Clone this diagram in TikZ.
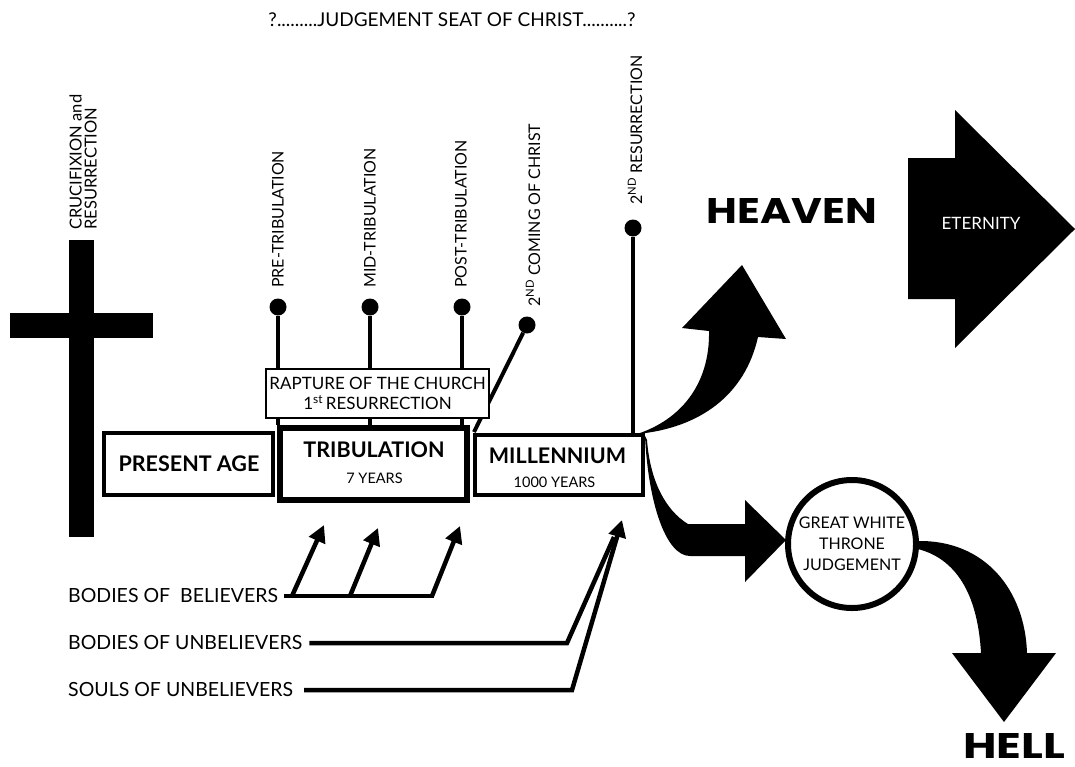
\documentclass[tikz,border=0pt]{standalone}
\usepackage{fontspec}
\setmainfont{Lato}
\newfontfamily\heavyfont{Poppins}
\usetikzlibrary{arrows.meta, positioning, shapes.geometric}

\tikzstyle{period} = [rectangle, draw=black, fill=white, line width=4.5pt, inner sep=0pt]
\tikzstyle{boxtitle} = [inner sep=0pt, font=\fontsize{21.5}{24}\selectfont\bfseries]
\tikzstyle{boxsub} = [inner sep=0pt, font=\fontsize{14.5}{16}\selectfont]
\tikzstyle{lbl} = [inner sep=0pt, font=\fontsize{17}{20}\selectfont]
\tikzstyle{who} = [inner sep=0pt, anchor=west, font=\fontsize{19.5}{22}\selectfont]
\tikzstyle{vtext} = [rotate=90, anchor=west, inner sep=0pt, align=left, font=\fontsize{16}{15}\selectfont]
\tikzstyle{dot} = [circle, fill=black, minimum size=17pt, inner sep=0pt]
\tikzstyle{stem} = [line width=4pt]
\tikzstyle{feed} = [line width=4.5pt, -{Triangle[length=17pt,width=17pt]}]
\tikzstyle{rise} = [line width=4.5pt]

\begin{document}
\begin{tikzpicture}[x=1pt, y=-1pt]
\useasboundingbox (0,0) rectangle (1075,766);

        \node (seat) [inner sep=0pt, font=\fontsize{19}{22}\selectfont] at (452,20) {?.........JUDGEMENT SEAT OF CHRIST..........?};

        % cross
        \fill (69,240) rectangle (94,537);
        \fill (10,313) rectangle (153,338);
        \node (cross) [vtext, font=\fontsize{16.5}{15}\selectfont] at (83,230) {CRUCIFIXION and\\RESURRECTION};

        % the ages
        \node (present) [period, minimum width=169pt, minimum height=62pt] at (188.5,464) {};
        \node (trib) [period, line width=6pt, minimum width=187pt, minimum height=72pt] at (373.5,464) {};
        \node (mill) [period, minimum width=168pt, minimum height=60pt] at (559,465) {};
        \node (presentT) [boxtitle] at (189,464) {PRESENT AGE};
        \node (tribT) [boxtitle] at (374,449.5) {TRIBULATION};
        \node (tribY) [boxsub] at (374.5,478.5) {7 YEARS};
        \node (millT) [boxtitle] at (557.5,455.5) {MILLENNIUM};
        \node (millY) [boxsub] at (554.5,482.5) {1000 YEARS};

        % raptures and resurrections
        \node (pre) [dot] at (278,307) {};
        \node (mid) [dot] at (370,307) {};
        \node (post) [dot] at (462,307) {};
        \node (coming) [dot] at (527,325) {};
        \node (second) [dot] at (633,228) {};
        \node (preL) [vtext] at (278,288) {PRE-TRIBULATION};
        \node (midL) [vtext] at (370,288) {MID-TRIBULATION};
        \node (postL) [vtext] at (461,288) {POST-TRIBULATION};
        \node (comingL) [vtext] at (533,307) {2\textsuperscript{ND} COMING OF CHRIST};
        \node (secondL) [vtext] at (635,205) {2\textsuperscript{ND} RESURRECTION};
        \coordinate (comingEnd) at (474,432);

        \draw [stem] (pre) -- (pre |- trib.north);
        \draw [stem] (mid) -- (mid |- trib.north);
        \draw [stem] (post) -- (post |- trib.north);
        \draw [stem] (coming) -- (comingEnd);
        \draw [stem] (second) -- (second |- mill.north);

        \node (rapture) [rectangle, draw, fill=white, line width=2pt, minimum width=223pt, minimum height=49pt, inner sep=0pt, align=center, font=\fontsize{17}{19.5}\selectfont] at (377.5,393.5) {RAPTURE OF THE CHURCH\\1\textsuperscript{st}\,RESURRECTION};

        % who is raised
        \node (bel) [who] at (68,596) {BODIES OF\ \ BELIEVERS};
        \node (unbel) [who] at (68,643) {BODIES OF UNBELIEVERS};
        \node (souls) [who] at (68,690) {SOULS OF UNBELIEVERS};
        \coordinate (b1) at (292,596);
        \coordinate (b2) at (350,596);
        \coordinate (b3) at (434,596);
        \coordinate (t1) at (324,525);
        \coordinate (t2) at (378,528);
        \coordinate (t3) at (460,526);
        \coordinate (u1) at (567,643);
        \coordinate (u2) at (614,537);
        \coordinate (s1) at (572,690);
        \coordinate (s2) at (622,520);

        \draw [rise] ([xshift=6pt]bel.east) -- (b3);
        \draw [feed] (b1) -- (t1);
        \draw [feed] (b2) -- (t2);
        \draw [feed] ([xshift=-2pt]b3) -- (t3);
        \draw [rise] ([xshift=7pt]unbel.east) -- (u1) -- (u2);
        \draw [feed] ([xshift=11pt]souls.east) -- (s1) -- (s2);

        % heaven, judgement and hell
        \fill (637,434) .. controls (700,428) and (745,395) .. (758,337) -- (786,339) -- (742,265) -- (682,328) -- (709,331) .. controls (710,385) and (680,420) .. (637,434) -- cycle;
        \fill (645,436) .. controls (648,500) and (665,556) .. (690,556) -- (745,556) -- (745,582) -- (786,540) -- (745,500) -- (745,524) -- (688,524) .. controls (665,510) and (650,480) .. (647,440) -- cycle;
        \fill (918,541) .. controls (985,540) and (1025,590) .. (1027,653) -- (1056,653) -- (1004,722) -- (952,653) -- (981,653) .. controls (978,600) and (960,560) .. (918,549) -- cycle;
        \fill (908,158) -- (955,158) -- (955,110) -- (1075,229) -- (955,348) -- (955,299) -- (908,299) -- cycle;

        \node (gwt) [circle, draw, fill=white, line width=6pt, minimum size=128pt, inner sep=0pt, align=center, font=\fontsize{16}{21}\selectfont] at (852,544) {GREAT WHITE\\THRONE\\JUDGEMENT};
        \node (eternity) [lbl, text=white] at (981,223) {ETERNITY};
        \node (heaven) [inner sep=0pt] at (792,211) {\resizebox{170pt}{25pt}{\heavyfont\bfseries HEAVEN}};
        \node (hell) [inner sep=0pt] at (1014,746) {\resizebox{102pt}{25pt}{\heavyfont\bfseries HELL}};

\end{tikzpicture}
\end{document}
